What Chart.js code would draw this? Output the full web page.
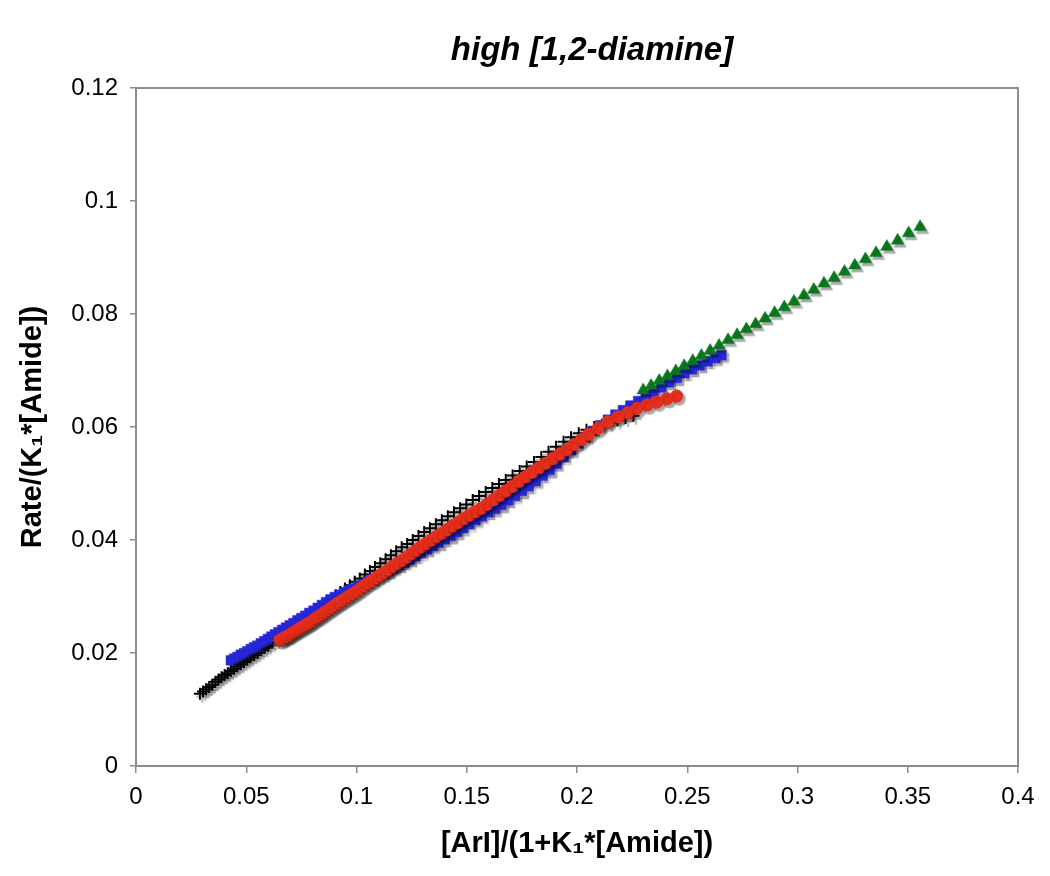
<!DOCTYPE html>
<html>
<head>
<meta charset="utf-8">
<script src="https://cdn.jsdelivr.net/npm/chart.js@4/dist/chart.umd.min.js"></script>
<style>
  html, body { margin: 0; padding: 0; background: #ffffff; }
  #wrap { width: 1050px; height: 876px; }
</style>
</head>
<body>
<div id="wrap"><canvas id="c" width="1050" height="876"></canvas></div>
<script>
const chartTitle = 'high [1,2-diamine]';
const xAxisTitle = '[ArI]/(1+K\u2081*[Amide])';
const yAxisTitle = 'Rate/(K\u2081*[Amide])';
const xTickLabels = ['0', '0.05', '0.1', '0.15', '0.2', '0.25', '0.3', '0.35', '0.4'];
const yTickLabels = ['0', '0.02', '0.04', '0.06', '0.08', '0.1', '0.12'];

const blackX = [0.0290,0.0304,0.0318,0.0332,0.0346,0.0360,0.0374,0.0388,0.0402,0.0416,0.0430,0.0445,0.0460,0.0475,0.0490,0.0505,0.0520,0.0536,0.0552,0.0568,0.0584,0.0600,0.0618,0.0636,0.0654,0.0672,0.0690,0.0708,0.0727,0.0746,0.0765,0.0784,0.0804,0.0824,0.0844,0.0864,0.0885,0.0906,0.0927,0.0948,0.0970,0.0992,0.1015,0.1038,0.1061,0.1084,0.1108,0.1132,0.1156,0.1180,0.1205,0.1230,0.1255,0.1281,0.1307,0.1333,0.1360,0.1387,0.1414,0.1442,0.1470,0.1498,0.1527,0.1556,0.1586,0.1616,0.1646,0.1677,0.1708,0.1740,0.1772,0.1805,0.1838,0.1871,0.1905,0.1939,0.1973,0.2008,0.2043,0.2078,0.2113,0.2148,0.2184,0.2220,0.2256];
const blackY = [0.0128,0.0132,0.0136,0.0140,0.0144,0.0149,0.0153,0.0157,0.0161,0.0164,0.0168,0.0172,0.0176,0.0180,0.0184,0.0188,0.0192,0.0196,0.0200,0.0205,0.0209,0.0213,0.0218,0.0223,0.0228,0.0233,0.0239,0.0244,0.0249,0.0255,0.0261,0.0266,0.0272,0.0278,0.0284,0.0290,0.0296,0.0302,0.0308,0.0314,0.0320,0.0326,0.0332,0.0339,0.0345,0.0352,0.0359,0.0366,0.0373,0.0380,0.0387,0.0393,0.0400,0.0407,0.0414,0.0421,0.0428,0.0435,0.0442,0.0449,0.0456,0.0463,0.0471,0.0478,0.0485,0.0492,0.0499,0.0506,0.0514,0.0522,0.0530,0.0538,0.0547,0.0556,0.0565,0.0574,0.0582,0.0589,0.0595,0.0600,0.0604,0.0608,0.0612,0.0616,0.0620];

const blueX = [0.0430,0.0445,0.0460,0.0475,0.0490,0.0505,0.0520,0.0535,0.0550,0.0566,0.0582,0.0598,0.0614,0.0630,0.0646,0.0663,0.0680,0.0697,0.0714,0.0732,0.0750,0.0768,0.0786,0.0805,0.0824,0.0843,0.0862,0.0882,0.0902,0.0922,0.0943,0.0964,0.0985,0.1007,0.1029,0.1051,0.1074,0.1097,0.1120,0.1144,0.1168,0.1192,0.1217,0.1242,0.1267,0.1293,0.1319,0.1345,0.1372,0.1399,0.1426,0.1454,0.1482,0.1510,0.1539,0.1568,0.1597,0.1627,0.1657,0.1687,0.1718,0.1749,0.1780,0.1812,0.1844,0.1876,0.1908,0.1941,0.1974,0.2007,0.2040,0.2073,0.2106,0.2140,0.2174,0.2208,0.2242,0.2277,0.2312,0.2347,0.2382,0.2417,0.2452,0.2487,0.2522,0.2557,0.2592,0.2627,0.2655];
const blueY = [0.0187,0.0190,0.0193,0.0197,0.0200,0.0203,0.0207,0.0210,0.0213,0.0217,0.0221,0.0225,0.0229,0.0233,0.0237,0.0241,0.0245,0.0249,0.0253,0.0258,0.0262,0.0266,0.0271,0.0275,0.0280,0.0285,0.0290,0.0295,0.0299,0.0303,0.0307,0.0311,0.0314,0.0318,0.0322,0.0327,0.0332,0.0336,0.0340,0.0345,0.0350,0.0355,0.0360,0.0365,0.0371,0.0377,0.0383,0.0389,0.0395,0.0401,0.0407,0.0414,0.0421,0.0428,0.0435,0.0442,0.0449,0.0455,0.0462,0.0470,0.0478,0.0487,0.0495,0.0504,0.0514,0.0524,0.0535,0.0547,0.0559,0.0571,0.0582,0.0593,0.0603,0.0613,0.0622,0.0630,0.0638,0.0646,0.0654,0.0662,0.0670,0.0679,0.0687,0.0695,0.0702,0.0709,0.0716,0.0722,0.0727];

const redX = [0.0653,0.0665,0.0677,0.0689,0.0701,0.0713,0.0725,0.0738,0.0751,0.0764,0.0777,0.0790,0.0804,0.0818,0.0832,0.0846,0.0860,0.0875,0.0890,0.0905,0.0920,0.0936,0.0952,0.0968,0.0984,0.1001,0.1018,0.1035,0.1053,0.1071,0.1089,0.1108,0.1127,0.1146,0.1166,0.1186,0.1207,0.1228,0.1249,0.1271,0.1293,0.1316,0.1339,0.1362,0.1386,0.1410,0.1435,0.1460,0.1486,0.1512,0.1538,0.1565,0.1592,0.1620,0.1648,0.1677,0.1706,0.1736,0.1766,0.1796,0.1827,0.1858,0.1890,0.1922,0.1954,0.1987,0.2020,0.2053,0.2096,0.2140,0.2186,0.2230,0.2272,0.2318,0.2362,0.2408,0.2452];
const redY = [0.0223,0.0225,0.0228,0.0230,0.0233,0.0236,0.0239,0.0242,0.0245,0.0248,0.0251,0.0254,0.0258,0.0262,0.0265,0.0269,0.0273,0.0277,0.0281,0.0285,0.0289,0.0293,0.0297,0.0301,0.0305,0.0309,0.0314,0.0319,0.0324,0.0328,0.0333,0.0338,0.0343,0.0348,0.0354,0.0359,0.0364,0.0370,0.0376,0.0382,0.0388,0.0394,0.0400,0.0406,0.0412,0.0418,0.0425,0.0431,0.0438,0.0444,0.0450,0.0456,0.0463,0.0471,0.0479,0.0487,0.0495,0.0504,0.0512,0.0520,0.0528,0.0536,0.0544,0.0552,0.0560,0.0569,0.0578,0.0587,0.0598,0.0609,0.0618,0.0625,0.0633,0.0639,0.0644,0.0650,0.0655];

const greenX = [0.2300,0.2336,0.2373,0.2410,0.2448,0.2486,0.2525,0.2564,0.2604,0.2644,0.2685,0.2726,0.2768,0.2810,0.2853,0.2896,0.2940,0.2984,0.3029,0.3074,0.3120,0.3166,0.3213,0.3260,0.3308,0.3356,0.3405,0.3454,0.3504,0.3556];
const greenY = [0.0665,0.0673,0.0682,0.0690,0.0699,0.0708,0.0717,0.0726,0.0735,0.0744,0.0754,0.0763,0.0773,0.0782,0.0792,0.0802,0.0812,0.0822,0.0833,0.0843,0.0854,0.0864,0.0875,0.0886,0.0897,0.0908,0.0919,0.0930,0.0943,0.0954];

const pts = (xs, ys) => xs.map((x, i) => ({ x: x, y: ys[i] }));
const FONT = '"Liberation Sans", Arial, Helvetica, sans-serif';
const FRAME = '#8c8c8c';

const framePlugin = {
  id: 'frameAndShadow',
  beforeDatasetsDraw(chart) {
    const { ctx, chartArea: a } = chart;
    ctx.save();
    ctx.strokeStyle = FRAME;
    ctx.lineWidth = 2;
    ctx.strokeRect(a.left, a.top, a.right - a.left, a.bottom - a.top);
    ctx.restore();
    ctx.save();
    ctx.shadowColor = 'rgba(0,0,0,0.35)';
    ctx.shadowOffsetX = 2.5;
    ctx.shadowOffsetY = 3;
    ctx.shadowBlur = 1.5;
  },
  afterDatasetsDraw(chart) {
    chart.ctx.restore();
  },
  afterDraw(chart) {
    const { ctx } = chart;
    ctx.save();
    ctx.fillStyle = '#000';
    ctx.font = 'italic bold 33px ' + FONT;
    ctx.textAlign = 'center';
    ctx.textBaseline = 'middle';
    ctx.fillText(chartTitle, 592, 51);
    ctx.restore();
  }
};

new Chart(document.getElementById('c'), {
  type: 'scatter',
  data: {
    datasets: [
      { label: 'green', data: pts(greenX, greenY), order: 0, pointStyle: 'triangle', pointRadius: 7.2,
        backgroundColor: '#0a7a1e', borderColor: '#0a7a1e', borderWidth: 0.5 },
      { label: 'red', data: pts(redX, redY), order: 1, pointStyle: 'circle', pointRadius: 6.3,
        backgroundColor: '#e62e1c', borderColor: '#e62e1c', borderWidth: 0.5 },
      { label: 'blue', data: pts(blueX, blueY), order: 2, pointStyle: 'rect', pointRadius: 6.8,
        backgroundColor: '#2828dc', borderColor: '#2828dc', borderWidth: 0.5 },
      { label: 'black', data: pts(blackX, blackY), order: 3, pointStyle: 'cross', pointRadius: 6,
        backgroundColor: '#000', borderColor: '#000', borderWidth: 2 }
    ]
  },
  options: {
    responsive: false,
    animation: false,
    layout: { padding: { left: 0, right: 32, top: 88, bottom: 0 } },
    plugins: { legend: { display: false }, tooltip: { enabled: false }, title: { display: false } },
    scales: {
      x: {
        type: 'linear', min: 0, max: 0.4,
        afterFit(s) { s.height = 110; },
        ticks: { stepSize: 0.05, color: '#000', padding: 10, font: { family: FONT, size: 24 },
                 callback: (v, i) => xTickLabels[i] !== undefined ? xTickLabels[i] : String(v) },
        grid: { drawOnChartArea: false, drawTicks: true, tickLength: 7, color: FRAME, lineWidth: 1.5 },
        border: { display: true, color: FRAME, width: 2 },
        title: { display: true, text: xAxisTitle, color: '#000',
                 font: { family: FONT, size: 29, weight: 'bold' }, padding: { top: 0, bottom: 15 } }
      },
      y: {
        type: 'linear', min: 0, max: 0.12,
        afterFit(s) { s.width = 136; },
        ticks: { stepSize: 0.02, color: '#000', padding: 12, font: { family: FONT, size: 24 },
                 callback: (v, i) => yTickLabels[i] !== undefined ? yTickLabels[i] : String(v) },
        grid: { drawOnChartArea: false, drawTicks: true, tickLength: 6, color: FRAME, lineWidth: 1.5 },
        border: { display: true, color: FRAME, width: 2 },
        title: { display: true, text: yAxisTitle, color: '#000',
                 font: { family: FONT, size: 29, weight: 'bold' }, padding: { top: 16, bottom: 0 } }
      }
    }
  },
  plugins: [framePlugin]
});
</script>
</body>
</html>
